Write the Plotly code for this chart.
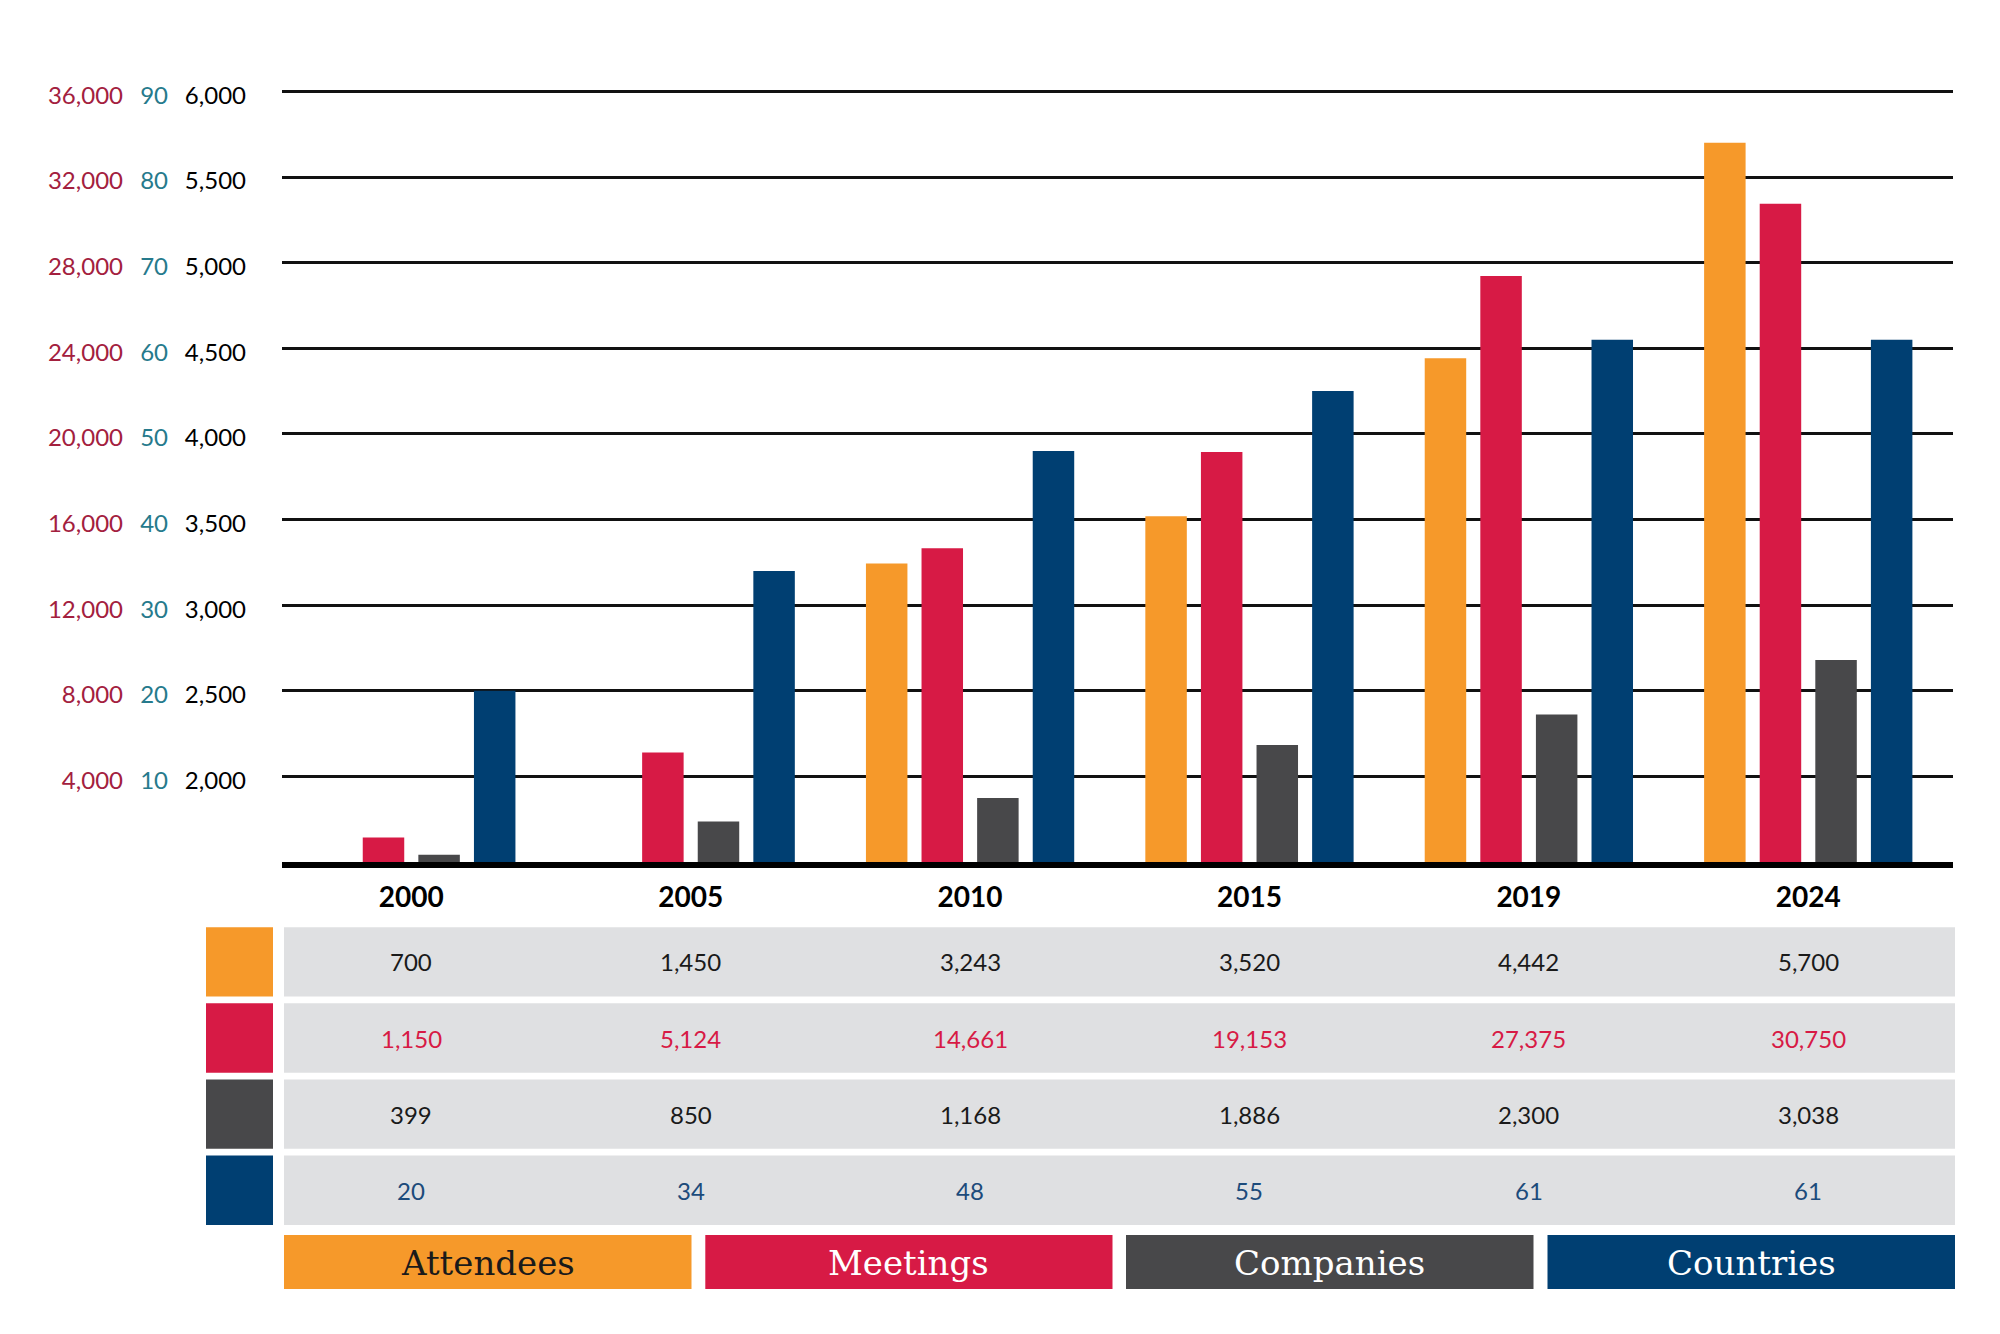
import plotly.graph_objects as go

# ---------------- data ----------------
years = ["2000", "2005", "2010", "2015", "2019", "2024"]
attendees = [700, 1450, 3243, 3520, 4442, 5700]
meetings = [1150, 5124, 14661, 19153, 27375, 30750]
companies = [399, 850, 1168, 1886, 2300, 3038]
countries = [20, 34, 48, 55, 61, 61]

series_names = ["Attendees", "Meetings", "Companies", "Countries"]
meet_ticks = [4000, 8000, 12000, 16000, 20000, 24000, 28000, 32000, 36000]
country_ticks = [10, 20, 30, 40, 50, 60, 70, 80, 90]
att_ticks = [2000, 2500, 3000, 3500, 4000, 4500, 5000, 5500, 6000]

# ---------------- style ----------------
W, H = 2000, 1334
DX, DY = 8, 10   # page offset compensation
ORANGE = "#F6992A"
RED = "#D71A45"
GRAY = "#48484A"
NAVY = "#003F72"
ROWBG = "#DFE0E2"
RED_TICK = "#A3203E"
TEAL_TICK = "#267A8C"
ROW_TEXT = ["#1a1a1a", RED, "#1a1a1a", "#1C4B7B"]
LEG_TEXT = ["#1a1a1a", "#ffffff", "#ffffff", "#ffffff"]
COLORS = [ORANGE, RED, GRAY, NAVY]

def X(px):
    return (px - DX) / W

def Y(py):
    return 1 - (py - DY) / H

plot_left, plot_right = 282.3, 1952.7
plot_top, plot_bottom = 82, 863

bar_w = 0.1485
slot = 0.199
offsets = [(i - 1.5) * slot - bar_w / 2 for i in range(4)]

fig = go.Figure()
values = [attendees, meetings, companies, countries]
axes = ["y3", "y", "y4", "y2"]
for i in range(4):
    fig.add_trace(go.Bar(
        x=years, y=values[i], name=series_names[i], yaxis=axes[i],
        marker=dict(color=COLORS[i], line=dict(width=0)),
        width=bar_w, offset=offsets[i], showlegend=False,
    ))

tick_font = dict(family="Lato", size=24)
SHIFT = 4

fig.update_layout(
    width=W, height=H, autosize=False,
    margin=dict(l=0, r=0, t=0, b=0),
    paper_bgcolor="white", plot_bgcolor="white",
    barmode="overlay",
    showlegend=False,
    xaxis=dict(
        domain=[X(plot_left), X(plot_right)],
        type="category",
        range=[-0.4617, 5.517],
        showline=True, linewidth=6, linecolor="black",
        showgrid=False, zeroline=False,
        ticks="outside", ticklen=5, tickcolor="rgba(0,0,0,0)",
        tickfont=dict(family="Lato", size=28, color="black", weight="bold"),
    ),
    yaxis=dict(
        domain=[Y(plot_bottom), Y(plot_top)],
        range=[0, 36400],
        anchor="free", position=X(123),
        tickvals=meet_ticks, ticktext=[f"{v:,}" for v in meet_ticks],
        tickfont=dict(color=RED_TICK, **tick_font),
        showgrid=True, gridcolor="#111111", gridwidth=2.5,
        zeroline=False, showline=False, ticks="",
        ticklabelshift=SHIFT,
    ),
    yaxis2=dict(
        overlaying="y", range=[0, 91],
        anchor="free", position=X(168),
        tickvals=country_ticks, ticktext=[str(v) for v in country_ticks],
        tickfont=dict(color=TEAL_TICK, **tick_font),
        showgrid=False, zeroline=False, showline=False, ticks="",
        ticklabelshift=SHIFT,
    ),
    yaxis3=dict(
        overlaying="y", range=[1500, 6050],
        anchor="free", position=X(246),
        tickvals=att_ticks, ticktext=[f"{v:,}" for v in att_ticks],
        tickfont=dict(color="black", **tick_font),
        showgrid=False, zeroline=False, showline=False, ticks="",
        ticklabelshift=SHIFT,
    ),
    yaxis4=dict(
        overlaying="y", range=[300, 10854],
        anchor="free", position=X(plot_left),
        visible=False, showgrid=False, zeroline=False,
    ),
)

# ---------------- table below ----------------
shapes = []
annotations = []
row_tops = [928.3, 1004.6, 1080.9, 1157.2]
row_h = 69.5
for r in range(4):
    t = row_tops[r]
    b = t + row_h
    shapes.append(dict(type="rect", xref="paper", yref="paper",
                       x0=X(206), x1=X(273), y0=Y(b), y1=Y(t),
                       fillcolor=COLORS[r], line=dict(width=0), layer="below"))
    shapes.append(dict(type="rect", xref="paper", yref="paper",
                       x0=X(284), x1=X(1955), y0=Y(b), y1=Y(t),
                       fillcolor=ROWBG, line=dict(width=0), layer="below"))
    for j, yr in enumerate(years):
        annotations.append(dict(
            x=j, y=Y((t + b) / 2), xref="x", yref="paper",
            text=f"{values[r][j]:,}", showarrow=False,
            font=dict(family="Lato", size=24, color=ROW_TEXT[r]),
            xanchor="center", yanchor="middle",
        ))

leg_boxes = [(284, 691.5), (705.3, 1112.5), (1126, 1533.5), (1547.5, 1955)]
leg_top, leg_bot = 1236.7, 1291
for k, (x0, x1) in enumerate(leg_boxes):
    shapes.append(dict(type="rect", xref="paper", yref="paper",
                       x0=X(x0), x1=X(x1), y0=Y(leg_bot), y1=Y(leg_top),
                       fillcolor=COLORS[k], line=dict(width=0), layer="below"))
    annotations.append(dict(
        x=X((x0 + x1) / 2), y=Y((leg_top + leg_bot) / 2 + 1), xref="paper", yref="paper",
        text=series_names[k], showarrow=False,
        font=dict(family="DejaVu Serif", size=34, color=LEG_TEXT[k]),
        xanchor="center", yanchor="middle",
    ))

fig.update_layout(shapes=shapes, annotations=annotations)
fig.write_html("out.html")
